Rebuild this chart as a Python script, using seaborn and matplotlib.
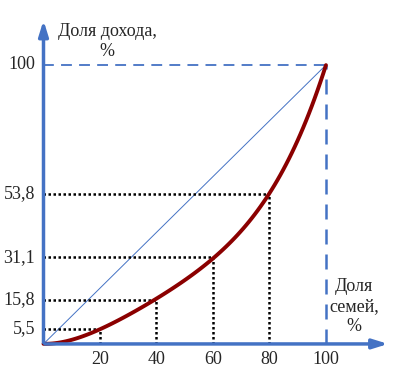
import matplotlib
matplotlib.use('Agg')
import matplotlib.pyplot as plt
import seaborn as sns
import pandas as pd

# доли семей и доли дохода (кривая Лоренца)
families = [0, 20, 40, 60, 80, 100]
income = [0, 5.5, 15.8, 31.1, 53.8, 100]
y_labels = ['5,5', '15,8', '31,1', '53,8', '100']
x_labels = ['20', '40', '60', '80', '100']

sns.set_style('white')
plt.rcParams['font.family'] = ['Liberation Serif', 'DejaVu Serif']

df = pd.DataFrame({'x': families, 'y': income})

fig = plt.figure(figsize=(4.09, 3.71), dpi=100)
ax = fig.add_axes([0, 0, 1, 1])

blue = '#4472C4'

# линия равномерного распределения
ax.plot([0, 100], [0, 100], color=blue, lw=0.7)
# пунктир на уровне 100
ax.plot([0, 100], [100, 100], color=blue, lw=1.3, ls=(0, (6, 4)))
ax.plot([100, 100], [0, 100], color=blue, lw=1.8, ls=(0, (6, 4)))

# точечные проекции
for xv, yv in zip(families[1:-1], income[1:-1]):
    ax.plot([0, xv], [yv, yv], color='black', lw=1.8, ls=(0, (1, 1)))
    ax.plot([xv, xv], [0, yv], color='black', lw=1.8, ls=(0, (1, 1)))

# кривая Лоренца
sns.regplot(data=df, x='x', y='y', order=4, ci=None, scatter=False,
            line_kws={'color': '#8B0000', 'lw': 2.8}, ax=ax, truncate=True)
ax.set_xlabel('')
ax.set_ylabel('')
ax.set_xlim(-15.4, 129.4)
ax.set_ylim(-9.7, 123.3)
ax.axis('off')

# оси со стрелками
ax.annotate('', xy=(0, 117), xytext=(0, -0.5),
            arrowprops=dict(arrowstyle='-|>,head_length=0.9,head_width=0.28',
                            color=blue, lw=2.5))
ax.annotate('', xy=(123, 0), xytext=(-0.5, 0),
            arrowprops=dict(arrowstyle='-|>,head_length=0.9,head_width=0.28',
                            color=blue, lw=2.5))

# подписи
for yv, lab in zip(income[1:], y_labels):
    ax.text(-3, yv, lab, ha='right', va='center', fontsize=13)
for xv, lab in zip(families[1:], x_labels):
    ax.text(xv, -2.5, lab, ha='center', va='top', fontsize=13)

ax.text(5, 108.5, 'Доля дохода,\n%', ha='left', va='center', fontsize=13,
        linespacing=1.25, multialignment='center')
ax.text(110, 13.5, 'Доля\nсемей,\n%', ha='center', va='center', fontsize=13,
        linespacing=1.25)

fig.savefig('out.png', dpi=100)
